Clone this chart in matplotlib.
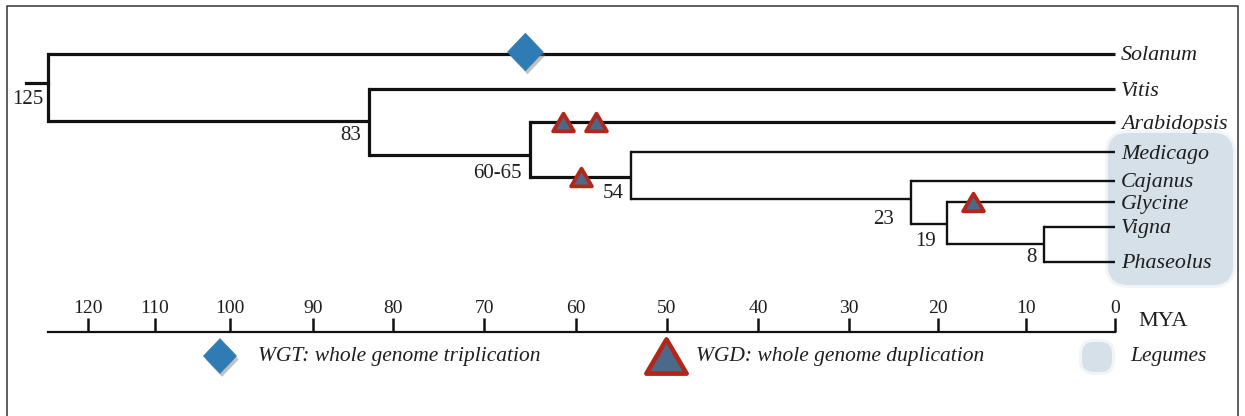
import numpy as np
import matplotlib
matplotlib.use("Agg")
import matplotlib.pyplot as plt
import matplotlib.patheffects as pe
from matplotlib.patches import FancyBboxPatch
from matplotlib.path import Path

# ---------------- data ----------------
taxa = ["Solanum", "Vitis", "Arabidopsis", "Medicago",
        "Cajanus", "Glycine", "Vigna", "Phaseolus"]
legumes = ["Medicago", "Cajanus", "Glycine", "Vigna", "Phaseolus"]

node_names = ["n125", "n83", "n65", "n54", "n23", "n19", "n8"]
node_ages = [125, 83, 65, 54, 23, 19, 8]          # divergence time, MYA
node_labels = ["125", "83", "60-65", "54", "23", "19", "8"]
node_children = [("Solanum", "n83"), ("Vitis", "n65"), ("Arabidopsis", "n54"),
                 ("Medicago", "n23"), ("Cajanus", "n19"), ("Glycine", "n8"),
                 ("Vigna", "Phaseolus")]

# polyploidy events: branch (named by its child) and age in MYA
wgt_branch = ["Solanum"]
wgt_age = [65.5]
wgd_branch = ["Arabidopsis", "Arabidopsis", "n54", "Glycine"]
wgd_age = [61.4, 57.8, 59.5, 16]

tick_ages = [120, 110, 100, 90, 80, 70, 60, 50, 40, 30, 20, 10, 0]
axis_unit = "MYA"
legend_wgt = "WGT: whole genome triplication"
legend_wgd = "WGD: whole genome duplication"
legend_leg = "Legumes"

# ---------------- layout ----------------
FIG_W, FIG_H = 1245, 416
DPI = 100
# the time axis is drawn with uneven spacing: pixel column for each age knot
SCALE_AGE = np.array([-20, 0, 10, 20, 30, 40, 50, 60, 70, 80, 90, 100, 110, 120, 135])
SCALE_PX = np.array([1293, 1115, 1026, 938, 849, 758, 667, 576, 484, 393, 313, 230, 155, 88, -32])
ROW_Y = {"Solanum": 54, "Vitis": 89, "Arabidopsis": 122, "Medicago": 152,
         "Cajanus": 181, "Glycine": 202, "Vigna": 227, "Phaseolus": 262}
NODE_Y = {"n125": 83, "n83": 121, "n65": 155, "n54": 177,
          "n23": 199, "n19": 224, "n8": 244}
NODE_LABEL_OFF = {"n125": (-5, 16), "n83": (-8, 15), "n65": (-8, 19), "n54": (-7, 16),
                  "n23": (-17, 20), "n19": (-11, 17), "n8": (-7, 13)}
AXIS_Y = 332
ROOT_STUB_PX = 22

INK = "#111111"
TXT = "#1e1e1e"
BLUE = "#2f7bb4"
RED = "#b3261a"
SLATE = "#4b6a8a"
LEG_FILL = "#d5e0e9"
SERIF = ["Liberation Serif", "DejaVu Serif"]


def fwd(a):
    return np.interp(a, SCALE_AGE, -SCALE_PX)


def inv(v):
    return np.interp(v, -SCALE_PX, SCALE_AGE)


def closed_marker(pts):
    verts = list(pts) + [pts[0]]
    codes = [Path.MOVETO] + [Path.LINETO] * (len(pts) - 1) + [Path.CLOSEPOLY]
    return Path(verts, codes)


fig = plt.figure(figsize=(FIG_W / DPI, FIG_H / DPI), dpi=DPI)

# overlay in pixel coordinates for frame, shading and legend
pax = fig.add_axes([0, 0, 1, 1])
pax.set_xlim(0, FIG_W)
pax.set_ylim(FIG_H, 0)
pax.axis("off")

# tree axes: x in MYA through the timeline scale, y in rows
ax = fig.add_axes([0, 0, 1, 1], facecolor="none")
ax.set_xscale("function", functions=(fwd, inv))
ax.set_xlim(float(inv(0)), float(inv(-FIG_W)))
ax.set_ylim(FIG_H, 0)
for s in ["left", "right", "bottom"]:
    ax.spines[s].set_visible(False)
ax.yaxis.set_visible(False)

# frame
pax.plot([7, 7, 1238, 1238], [FIG_H + 5, 6, 6, FIG_H + 5], color="#333333", lw=1.1,
         solid_joinstyle="miter")

# legume shading
halo = FancyBboxPatch((1105, 130), 131, 158, boxstyle="round,pad=0,rounding_size=23",
                      fc=LEG_FILL, ec="none", alpha=0.3, zorder=1)
box = FancyBboxPatch((1108, 133), 125, 152, boxstyle="round,pad=0,rounding_size=20",
                     fc=LEG_FILL, ec="none", zorder=1)
pax.add_patch(halo)
pax.add_patch(box)

# ---------------- tree ----------------
age_of = dict(zip(node_names, node_ages))
y_of = dict(ROW_Y)
y_of.update(NODE_Y)
for t in taxa:
    age_of[t] = 0

thin = set(legumes) | {"n54", "n23", "n19", "n8"}

for name, kids in zip(node_names, node_children):
    a = age_of[name]
    ys = [y_of[k] for k in kids]
    ax.plot([a, a], [min(ys), max(ys)], color=INK,
            lw=1.7 if name in thin else 2.3,
            solid_capstyle="projecting", zorder=3)
    for k in kids:
        ax.plot([a, age_of[k]], [y_of[k], y_of[k]], color=INK,
                lw=1.7 if (k in thin and k != "n54") else 2.3,
                solid_capstyle="butt", zorder=3)

# root stub
root_age = age_of["n125"]
stub_end = float(inv(fwd(root_age) + ROOT_STUB_PX))
ax.plot([root_age, stub_end], [y_of["n125"]] * 2, color=INK, lw=2.3, zorder=3)

for name, lab in zip(node_names, node_labels):
    dx, dy = NODE_LABEL_OFF[name]
    ax.annotate(lab, (age_of[name], y_of[name]), xytext=(dx, -dy),
                textcoords="offset pixels", ha="right", va="center",
                family=SERIF, fontsize=15, color=TXT, zorder=5)

for t in taxa:
    ax.annotate(t, (0, ROW_Y[t]), xytext=(6, -2), textcoords="offset pixels",
                ha="left", va="center", family=SERIF, style="italic",
                fontsize=15.8, color=TXT, zorder=5)

# ---------------- events ----------------
diamond = closed_marker([(0, 1), (0.95, 0), (0, -1), (-0.95, 0)])
tri = closed_marker([(0, 0.85), (1, -0.85), (-1, -0.85)])
shadow = [pe.SimplePatchShadow(offset=(1.5, -2.5), shadow_rgbFace="#777777", alpha=0.45),
          pe.Normal()]

ax.plot(wgt_age, [y_of[b] - 2 for b in wgt_branch], ls="none", marker=diamond,
        ms=27, mfc=BLUE, mec=BLUE, mew=0.5, zorder=6, path_effects=shadow)
ax.plot(wgd_age, [y_of[b] for b in wgd_branch], ls="none", marker=tri,
        ms=15, mfc=SLATE, mec=RED, mew=2.7, zorder=6)

# ---------------- time axis ----------------
ax.spines["top"].set_position(("data", AXIS_Y))
ax.spines["top"].set_bounds(0, root_age)
ax.spines["top"].set_linewidth(1.6)
ax.spines["top"].set_color(INK)
ax.xaxis.set_ticks_position("top")
ax.xaxis.set_label_position("top")
ax.set_xticks(tick_ages)
ax.set_xticklabels([str(t) for t in tick_ages], family=SERIF, fontsize=14, color=TXT)
ax.xaxis.set_minor_locator(matplotlib.ticker.NullLocator())
ax.tick_params(axis="x", which="major", direction="out", length=10, width=1.8,
               color=INK, pad=1)
pax.text(1138, 321, axis_unit, ha="left", va="center", family=SERIF, fontsize=16,
         color=TXT)

# ---------------- legend ----------------
pax.plot([220], [356], ls="none", marker=diamond, ms=25, mfc=BLUE, mec=BLUE,
         mew=0.5, path_effects=shadow)
pax.text(258, 357, legend_wgt, ha="left", va="center", family=SERIF,
         style="italic", fontsize=15.5, color=TXT)
pax.plot([666], [356], ls="none", marker=tri, ms=29, mfc=SLATE, mec=RED, mew=3.3)
pax.text(696, 357, legend_wgd, ha="left", va="center", family=SERIF,
         style="italic", fontsize=15.5, color=TXT)
pax.add_patch(FancyBboxPatch((1079, 339), 36, 36, boxstyle="round,pad=0,rounding_size=15",
                             fc=LEG_FILL, ec="none", alpha=0.3))
pax.add_patch(FancyBboxPatch((1082, 342), 30, 30, boxstyle="round,pad=0,rounding_size=12",
                             fc=LEG_FILL, ec="none"))
pax.text(1130, 356, legend_leg, ha="left", va="center", family=SERIF,
         style="italic", fontsize=15.5, color=TXT)

fig.savefig("out.png", dpi=DPI)
